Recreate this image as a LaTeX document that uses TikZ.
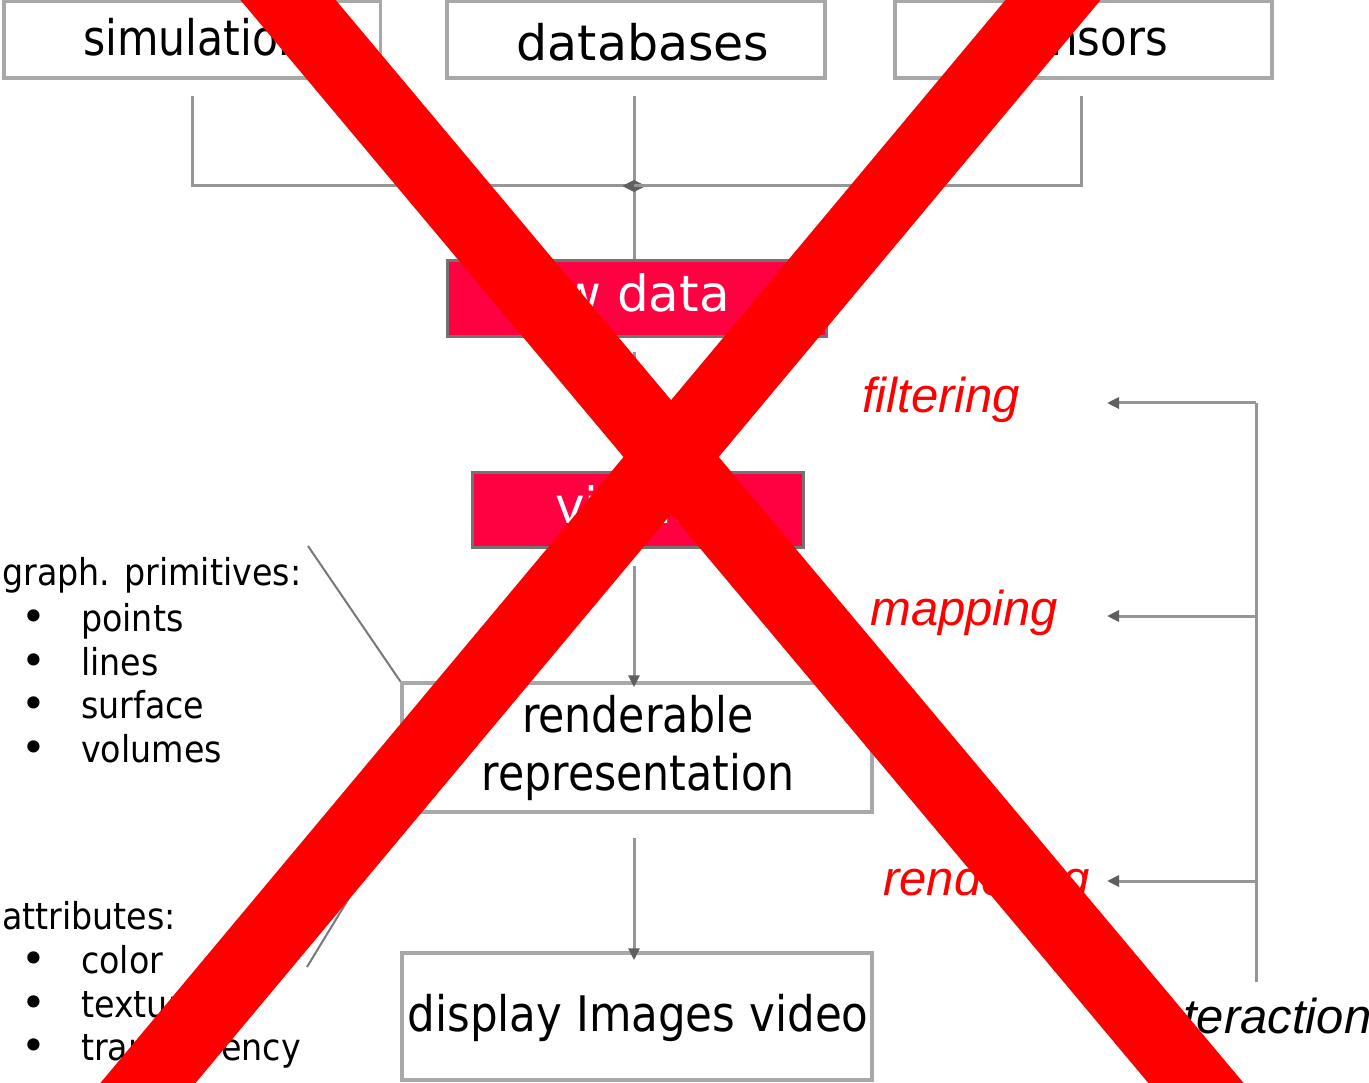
\documentclass[tikz,border=0pt]{standalone}
\usepackage{fontspec}
\setmainfont{DejaVu Sans}
\newfontfamily\boxfont{DejaVu Sans}
\newfontfamily\narrowfont[FakeStretch=0.87]{DejaVu Sans}
\newfontfamily\midfont[FakeStretch=0.89]{DejaVu Sans}
\newfontfamily\listfont[FakeStretch=0.9]{DejaVu Sans}
\newfontfamily\labelfont{Liberation Sans}
\usetikzlibrary{arrows.meta}

\definecolor{boxgray}{RGB}{168,168,168}
\definecolor{linegray}{RGB}{150,150,150}
\definecolor{tipgray}{RGB}{95,95,95}
\definecolor{leadergray}{RGB}{120,120,120}
\definecolor{stagefill}{RGB}{255,0,64}
\definecolor{stageedge}{RGB}{115,115,115}
\definecolor{steplabel}{RGB}{255,0,0}
\definecolor{crossred}{RGB}{255,0,0}

\tikzset{
  plainbox/.style={draw=boxgray, line width=3.5pt, fill=white, inner sep=0pt},
  stagebox/.style={draw=stageedge, line width=3pt, fill=stagefill, inner sep=0pt},
  bigtext/.style={font=\boxfont\fontsize{49pt}{55pt}\selectfont},
  narrowtext/.style={font=\narrowfont\fontsize{49pt}{55pt}\selectfont},
  midtext/.style={font=\midfont\fontsize{49pt}{55pt}\selectfont},
  stagetext/.style={font=\boxfont\fontsize{50pt}{56pt}\selectfont, text=white},
  listtext/.style={font=\listfont\fontsize{37pt}{44pt}\selectfont, inner sep=0pt},
  bullettext/.style={font=\boxfont\fontsize{42pt}{44pt}\selectfont, inner sep=0pt},
  steptext/.style={font=\labelfont\itshape\fontsize{49pt}{55pt}\selectfont, text=steplabel, inner sep=0pt},
  flow/.style={draw=linegray, line width=3pt},
  tip/.tip={Triangle[length=12pt, width=11pt, color=tipgray]},
  leader/.style={draw=leadergray, line width=2pt},
  crossbar/.style={draw=crossred, line width=73pt, line cap=butt},
}

\begin{document}
\begin{tikzpicture}[x=1pt, y=-1pt]
\useasboundingbox (0,0) rectangle (1369,1083);
\clip (0,0) rectangle (1369,1083);
\fill[white] (0,0) rectangle (1369,1083);

% data sources
\node[plainbox, minimum width=376.5pt, minimum height=76.5pt] (sim) at (192,40) {};
\node[plainbox, minimum width=378pt, minimum height=76.5pt] (db) at (636,40) {};
\node[plainbox, minimum width=377pt, minimum height=76.5pt] (sen) at (1083.5,40) {};
\node[narrowtext, anchor=base west, inner sep=0pt] (simt) at (83,56) {simulation};
\node[bigtext, anchor=base, inner sep=0pt] (dbt) at (643,61) {databases};
\node[midtext, anchor=base east, inner sep=0pt] (sent) at (1168,56) {sensors};

% pipeline stages
\node[stagebox, minimum width=379pt, minimum height=76pt] (raw) at (636.5,299) {};
\node[stagetext, anchor=base west, inner sep=0pt] (rawt) at (509,312) {raw data};
\node[stagebox, minimum width=331pt, minimum height=75pt] (vis) at (637.5,509.5) {};
\node[stagetext, anchor=base west, inner sep=0pt] (vist) at (555,523) {vis data};
\node[plainbox, minimum width=470pt, minimum height=129pt] (ren) at (637,747.5) {};
\node[narrowtext, anchor=base, inner sep=0pt] (rent1) at (638,732) {renderable};
\node[narrowtext, anchor=base, inner sep=0pt] (rent2) at (638,790) {representation};
\node[plainbox, minimum width=470pt, minimum height=127pt] (disp) at (637,1016.5) {};
\node[midtext, anchor=base, inner sep=0pt] (dispt) at (638,1031) {display Images video};

% merging the three sources
\coordinate (axis) at (634,0);
\coordinate (simdrop) at (192,96);
\coordinate (sendrop) at (1081,96);
\coordinate (dbdrop) at (634,96);
\coordinate (joinL) at (646,186);
\coordinate (joinR) at (622,186);
\draw[flow] (dbdrop) -- (raw.north -| axis);
\draw[flow, -tip] (simdrop) |- (joinL);
\draw[flow, -tip] (sendrop) |- (joinR);

% stage to stage
\coordinate (rawout) at (634,352);
\coordinate (visout) at (634,566);
\coordinate (renout) at (634,838);
\draw[flow, -tip] (rawout) -- (vis.north -| axis);
\draw[flow, -tip] (visout) -- ([yshift=-6pt]ren.north -| axis);
\draw[flow, -tip] (renout) -- ([yshift=-9pt]disp.north -| axis);

% step labels and interaction feedback
\node[steptext, anchor=base west] (filt) at (862,413) {filtering};
\node[steptext, anchor=base west] (mapp) at (870,625) {mapping};
\node[steptext, anchor=base west] (rend) at (883,895) {rendering};
\node[steptext, anchor=base west, text=black] (inter) at (1145,1033) {interaction};
\coordinate (itop) at (1256,403);
\coordinate (imap) at (1256,616);
\coordinate (iren) at (1256,881);
\coordinate (ibot) at (1256,982);
\coordinate (ftip) at (1107,403);
\coordinate (mtip) at (1107,616);
\coordinate (rtip) at (1107,881);
\draw[flow] (itop) -- (ibot);
\draw[flow, -tip] (itop) -- (ftip);
\draw[flow, -tip] (imap) -- (mtip);
\draw[flow, -tip] (iren) -- (rtip);

% side notes
\node[listtext, anchor=base west] (gp) at (2,585) {graph. primitives:};
\node[bullettext, anchor=base] (b1) at (34,631) {•};
\node[listtext, anchor=base west] (gp1) at (81,631) {points};
\node[bullettext, anchor=base] (b2) at (34,675) {•};
\node[listtext, anchor=base west] (gp2) at (81,675) {lines};
\node[bullettext, anchor=base] (b3) at (34,718) {•};
\node[listtext, anchor=base west] (gp3) at (81,718) {surface};
\node[bullettext, anchor=base] (b4) at (34,762) {•};
\node[listtext, anchor=base west] (gp4) at (81,762) {volumes};

\node[listtext, anchor=base west] (at) at (2,929) {attributes:};
\node[bullettext, anchor=base] (b5) at (34,973) {•};
\node[listtext, anchor=base west] (at1) at (81,973) {color};
\node[bullettext, anchor=base] (b6) at (34,1017) {•};
\node[listtext, anchor=base west] (at2) at (81,1017) {texture};
\node[bullettext, anchor=base] (b7) at (34,1060) {•};
\node[listtext, anchor=base west] (at3) at (81,1060) {transparency};

\coordinate (gpend) at (308,546);
\coordinate (atend) at (307,967);
\draw[leader] (gpend) -- (ren.north west);
\draw[leader] (atend) -- (ren.south west);

% crossed out
\draw[crossbar] (204.2,-100) -- (1279.8,1183);
\draw[crossbar] (1136.6,-100) -- (64.4,1183);
\end{tikzpicture}
\end{document}
